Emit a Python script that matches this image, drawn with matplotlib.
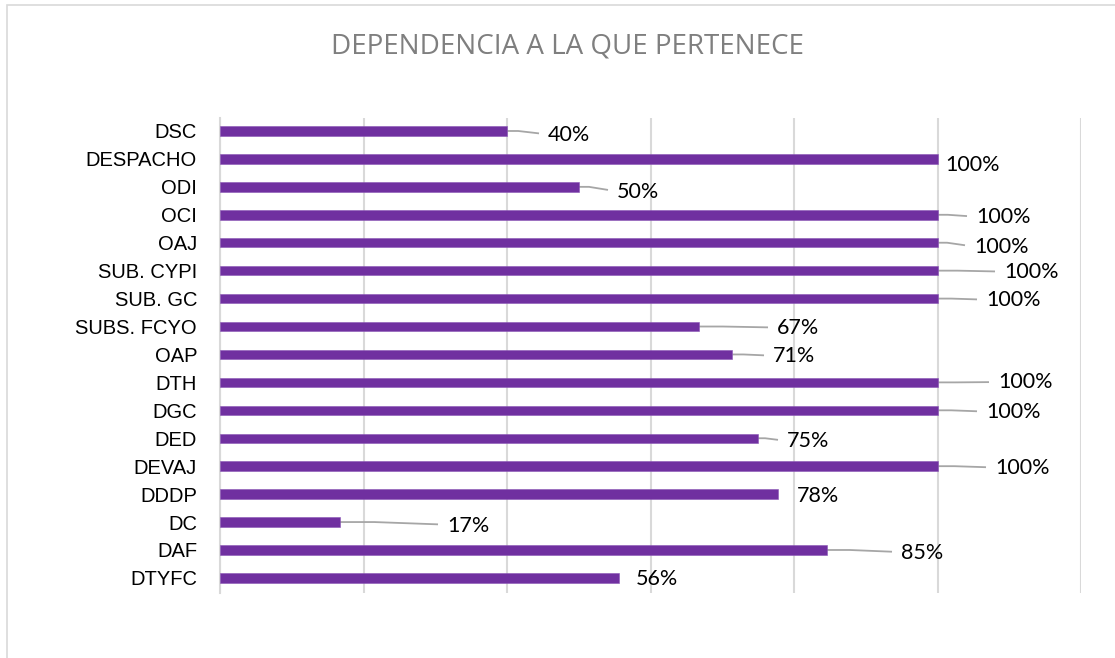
import matplotlib

matplotlib.use("Agg")
import matplotlib.pyplot as plt  # noqa: E402
from matplotlib.patches import Rectangle  # noqa: E402

categories = [
    "DSC", "DESPACHO", "ODI", "OCI", "OAJ", "SUB. CYPI", "SUB. GC", "SUBS. FCYO",
    "OAP", "DTH", "DGC", "DED", "DEVAJ", "DDDP", "DC", "DAF", "DTYFC",
]
values = [40, 100, 50, 100, 100, 100, 100, 66.7, 71.4, 100, 100, 75, 100, 77.8, 16.7, 84.6, 55.6]
labels = ["40%", "100%", "50%", "100%", "100%", "100%", "100%", "67%", "71%",
          "100%", "100%", "75%", "100%", "78%", "17%", "85%", "56%"]

# data-label placement (pixel positions): text left x, text centre y
LAB_PX = [548, 945, 617, 976, 974, 1004, 986, 777, 773, 998, 986, 787, 995, 797, 447, 901, 636]
LAB_PY = [135, 165, 192, 217, 247, 272, 300, 328, 356, 382, 412, 441, 468, 496, 526, 553, 579]
LEADER = [True, False, True, True, True, True, True, True, True, True, True, True, True,
          False, True, True, False]

PX0, PX_PER = 220.0, 7.175     # x pixel of 0% and pixels per percent
PY0, PY_PER = 131.0, 27.94     # y pixel of first bar and pixels per bar

BAR = "#7030a0"
GRID = "#d9d9d9"
LINE = "#a6a6a6"

fig = plt.figure(figsize=(11.15, 6.58), dpi=100)
fig.patches.append(Rectangle((7 / 1115, -0.1), 1.2, 1.1 - 5 / 658, transform=fig.transFigure,
                             fill=False, edgecolor=GRID, linewidth=1.2))

ax = fig.add_axes([220 / 1115, 1 - 593 / 658, (1081 - 220) / 1115, (593 - 118) / 658])
ypos = list(range(len(categories)))
ax.barh(ypos, values, height=0.34, color=BAR, edgecolor="#8a55b5", linewidth=0.4, zorder=3)

ax.set_xlim(0, 120)
ax.set_ylim(16.54, -0.465)
ax.set_xticks(range(0, 121, 20))
ax.set_xticklabels([])
ax.grid(axis="x", color=GRID, linewidth=1.5, zorder=0)
ax.set_yticks(ypos)
ax.set_yticklabels(categories, fontsize=14.5, family=["Liberation Sans", "DejaVu Sans"])
ax.tick_params(axis="both", length=0, pad=16.5)
for s in ["top", "right", "bottom"]:
    ax.spines[s].set_visible(False)
ax.spines["left"].set_color(GRID)
ax.spines["left"].set_linewidth(1.5)

for i, (v, lab) in enumerate(zip(values, labels)):
    lx = (LAB_PX[i] - PX0) / PX_PER
    ly = (LAB_PY[i] - PY0) / PY_PER
    if LEADER[i]:
        ex = (LAB_PX[i] - 9 - PX0) / PX_PER
        ey = i + (ly - i) * 0.6
        ax.plot([v, v + (ex - v) * 0.35, ex], [i, i, ey], color=LINE, linewidth=1.3,
                zorder=2, clip_on=False, solid_capstyle="butt")
    ax.text(lx, ly, lab, fontsize=15.5, family=["Lato", "DejaVu Sans"], color="#000000",
            ha="left", va="center", zorder=4, clip_on=False)

fig.text(567 / 1115, 1 - 47 / 658, "DEPENDENCIA A LA QUE PERTENECE", ha="center", va="center",
         fontsize=20, color="#7f7f7f",
         family=["Liberation Sans Narrow", "Open Sans", "DejaVu Sans"])

fig.savefig("out.png", dpi=100)
